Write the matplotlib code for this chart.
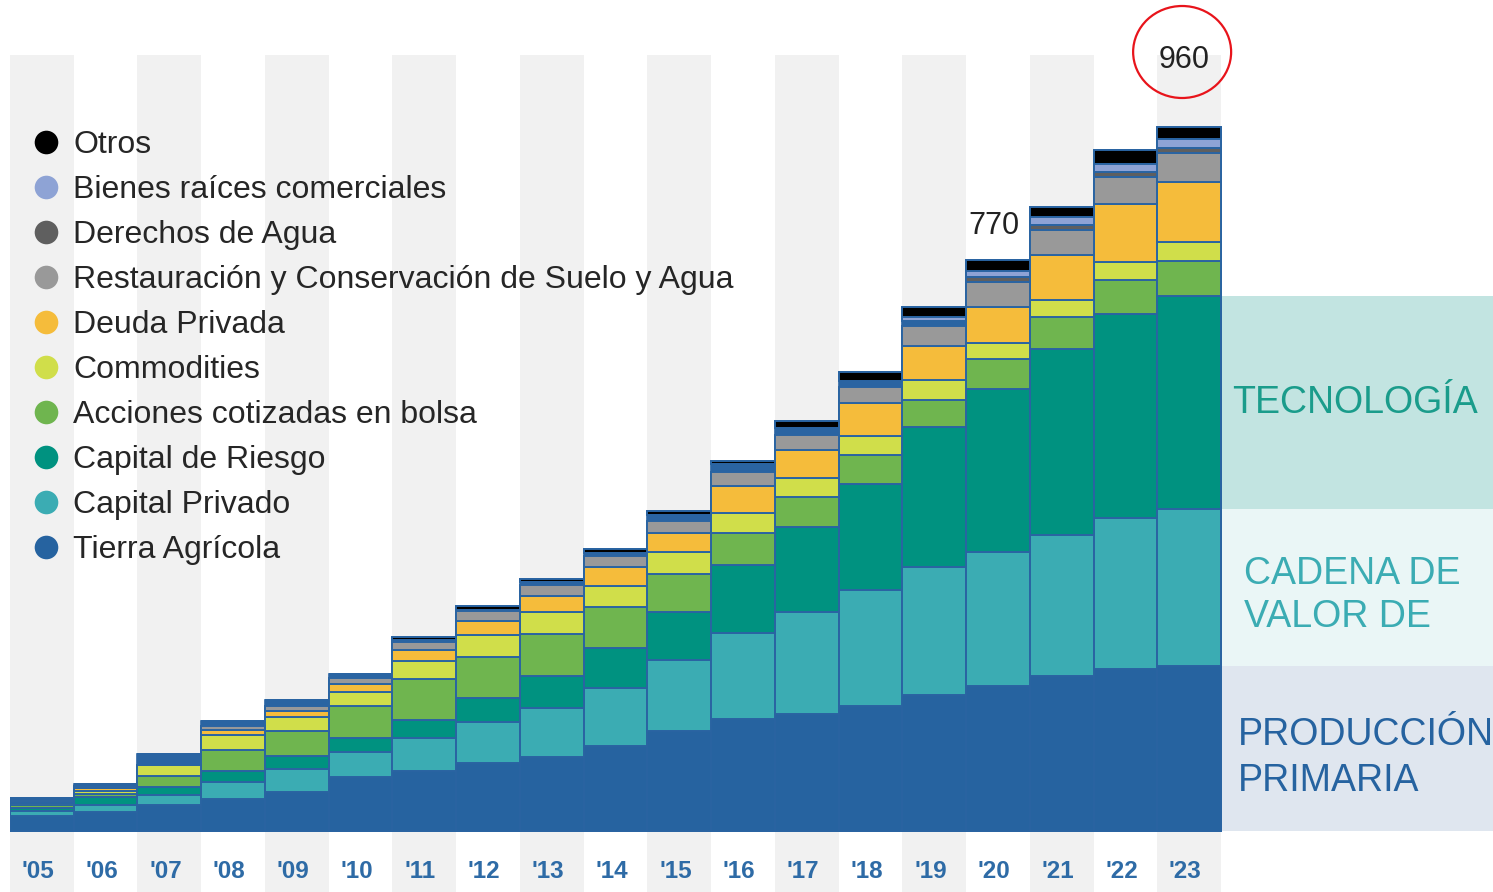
import numpy as np
import matplotlib
matplotlib.use("Agg")
import matplotlib.pyplot as plt
from matplotlib.lines import Line2D
from matplotlib.patches import Ellipse

plt.rcParams['font.family'] = ['Liberation Sans', 'DejaVu Sans']

years = ["'05", "'06", "'07", "'08", "'09", "'10", "'11", "'12", "'13", "'14",
         "'15", "'16", "'17", "'18", "'19", "'20", "'21", "'22", "'23"]

# stacked from the bottom up
tierra = [20, 26, 35, 44, 53, 74, 82, 93, 101, 116, 136, 153, 160, 170, 185, 198, 211, 221, 225]
cap_privado = [7, 10, 14, 23, 31, 34, 45, 55, 67, 79, 97, 117, 139, 158, 175, 183, 192, 206, 214]
cap_riesgo = [5, 10, 11, 15, 18, 19, 25, 34, 44, 55, 65, 93, 115, 145, 191, 222, 254, 278, 290]
acciones = [3, 5, 15, 29, 34, 44, 55, 55, 57, 55, 52, 44, 42, 40, 37, 40, 44, 46, 48]
commodities = [3, 4, 15, 20, 19, 19, 25, 30, 29, 29, 30, 27, 26, 26, 27, 22, 23, 25, 26]
deuda = [1, 3, 0, 7, 8, 11, 15, 19, 22, 26, 27, 37, 38, 44, 46, 50, 61, 79, 82]
restauracion = [3, 3, 0, 5, 8, 7, 11, 14, 15, 15, 16, 18, 20, 22, 27, 33, 34, 37, 40]
# stacked from the top down
derechos = [0, 0, 0, 0, 0, 0, 0, 0, 0, 0, 0, 0, 0, 0, 0, 7, 7, 7, 7]
bienes = [0, 0, 0, 0, 0, 0, 0, 0, 0, 0, 0, 0, 0, 0, 5, 8, 11, 11, 11]
otros = [0, 0, 0, 0, 0, 0, 4, 6, 5, 6, 5, 5, 10, 12, 14, 15, 14, 18, 17]

totales = [45, 64, 105, 150, 179, 214, 265, 307, 344, 385, 436, 505, 559, 626, 715, 778, 851, 928, 960]

bottom_names = ["Tierra Agrícola", "Capital Privado", "Capital de Riesgo",
                "Acciones cotizadas en bolsa", "Commodities", "Deuda Privada",
                "Restauración y Conservación de Suelo y Agua"]
top_names = ["Derechos de Agua", "Bienes raíces comerciales", "Otros"]
bottom_vals = [tierra, cap_privado, cap_riesgo, acciones, commodities, deuda, restauracion]
top_vals = [derechos, bienes, otros]
bottom_colors = ["#2663A0", "#3BACB3", "#009280", "#6FB54F", "#D0DE4A", "#F5BC3B", "#999999"]
top_colors = ["#5F5F5F", "#8EA3D5", "#000000"]

panel_labels = ["PRODUCCIÓN\nPRIMARIA", "CADENA DE\nVALOR DE", "TECNOLOGÍA"]
panel_colors = ["#DFE6EF", "#EAF6F6", "#C2E4E1"]
panel_text_colors = ["#2663A0", "#3BACB3", "#1A9C8B"]

edge = "#2A64A2"

W, H = 1493, 892
fig = plt.figure(figsize=(W / 100, H / 100), dpi=100)
ax = fig.add_axes([10 / W, 0, (W - 10) / W, (H - 55) / H])

px_unit = 704 / 960
bar_px = (1221 - 10) / 19
ax.set_ylim(-61 / px_unit, 776 / px_unit)
xmax = -0.5 + (W - 10) / bar_px
ax.set_xlim(-0.5, xmax)
ax.axis("off")

x = np.arange(len(years))

for i in x:
    if i % 2 == 0:
        ax.axvspan(i - 0.5, i + 0.5, color="#F1F1F1", lw=0, zorder=0)

# right hand panels, bounded by the last bar's groups
last = len(years) - 1
b = [0, tierra[last], tierra[last] + cap_privado[last],
     tierra[last] + cap_privado[last] + cap_riesgo[last]]
frac = 19 / (xmax + 0.5)
for k in range(3):
    ax.axhspan(b[k], b[k + 1], xmin=frac, xmax=1, color=panel_colors[k], lw=0, zorder=1)
ax.text(18.5 + 0.27, (b[0] + b[1]) / 2 - 13, panel_labels[0], color=panel_text_colors[0],
        fontsize=27, va="center", ha="left", linespacing=1.36, zorder=5)
ax.text(18.5 + 0.36, (b[1] + b[2]) / 2 - 11, panel_labels[1], color=panel_text_colors[1],
        fontsize=27, va="center", ha="left", linespacing=1.25, zorder=5)
ax.text(18.5 + 0.17, (b[2] + b[3]) / 2 - 1, panel_labels[2], color=panel_text_colors[2],
        fontsize=27, va="center", ha="left", zorder=5)

# blue backing bar, then the segments
ax.bar(x, totales, width=1.0, color=edge, edgecolor=edge, linewidth=1.2, zorder=2)
bottom = np.zeros(len(years))
for vals, c in zip(bottom_vals, bottom_colors):
    v = np.array(vals, dtype=float)
    ax.bar(x, v, width=1.0, bottom=bottom, color=c, edgecolor=edge, linewidth=1.4, zorder=3)
    bottom += v
top = np.array(totales, dtype=float)
for vals, c in zip(top_vals[::-1], top_colors[::-1]):
    v = np.array(vals, dtype=float)
    ax.bar(x, v, width=1.0, bottom=top - v, color=c, edgecolor=edge, linewidth=1.4, zorder=3)
    top -= v

for i, lab in enumerate(years):
    ax.text(i - 0.06, 21 / (H - 55), lab, transform=ax.get_xaxis_transform(),
            ha="center", va="center", fontsize=17.5, fontweight="bold", color="#2E6BA6")

ax.annotate("770", xy=(15, totales[15]), xytext=(-3, 25), textcoords="offset points",
            ha="center", va="center", fontsize=22, color="#222222", zorder=6)
ax.annotate("960", xy=(18, totales[18]), xytext=(-3.6, 48), textcoords="offset points",
            ha="center", va="center", fontsize=22, color="#222222", zorder=6,
            annotation_clip=False)
# red ring around the last total
ring = Ellipse((18 - 7 / bar_px, totales[18] + 75 / px_unit), 98 / bar_px, 92 / px_unit,
               fc="none", ec="#E8141B", lw=1.6, zorder=6, clip_on=False)
ax.add_patch(ring)

names = bottom_names + top_names
colors = bottom_colors + top_colors
handles = [Line2D([], [], marker="o", linestyle="", markersize=17, color=c,
                  markeredgewidth=0) for c in colors]
fig.legend(handles[::-1], names[::-1], loc="upper left",
           bbox_to_anchor=(31 / W, 1 - 130 / H), frameon=False, fontsize=23,
           handlelength=0.95, handletextpad=0.37, labelspacing=0.47,
           borderpad=0, borderaxespad=0, labelcolor="#262626")

fig.savefig("out.png", dpi=100)
